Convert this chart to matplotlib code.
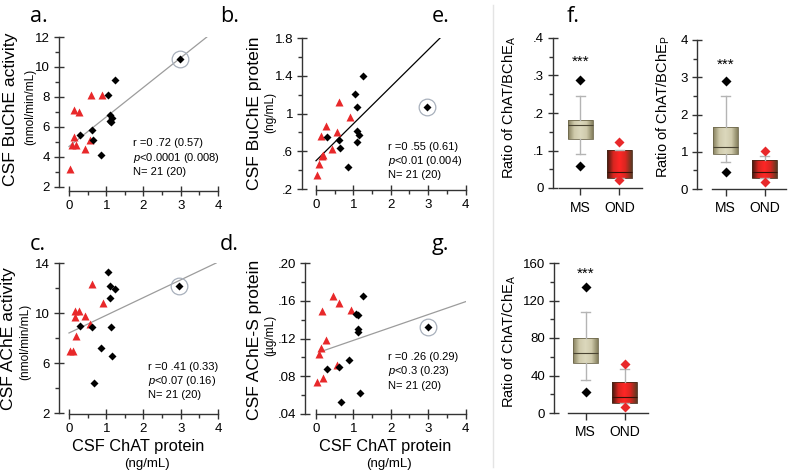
import numpy as np
import matplotlib.pyplot as plt
from matplotlib.colors import LinearSegmentedColormap
from matplotlib.ticker import MultipleLocator, FixedLocator

SANS = ['Liberation Sans', 'DejaVu Sans']
plt.rcParams['font.family'] = SANS

W, H = 790, 475

# ---- scatter data: x = CSF ChAT protein (ng/mL); red = one group, black = other ----
a_red_x = [0.02, 0.125, 0.26, 0.125, 0.09, 0.18, 0.42, 0.60, 0.57, 0.89]
a_red_y = [3.2, 7.1, 7.0, 5.3, 4.8, 4.8, 4.55, 8.13, 5.1, 8.1]
a_blk_x = [0.29, 0.63, 0.64, 0.87, 1.04, 1.24, 1.11, 1.15, 1.09, 1.12, 2.99]
a_blk_y = [5.44, 5.82, 5.16, 4.16, 8.16, 9.1, 6.78, 6.6, 6.4, 6.3, 10.56]

b_red_x = [0.036, 0.09, 0.15, 0.2, 0.13, 0.27, 0.44, 0.57, 0.61, 0.91]
b_red_y = [0.35, 0.47, 0.546, 0.56, 0.76, 0.87, 0.62, 0.80, 1.12, 0.96]
b_blk_x = [0.29, 0.62, 0.64, 0.86, 1.04, 1.10, 1.10, 1.11, 1.16, 1.25, 2.98]
b_blk_y = [0.755, 0.72, 0.634, 0.43, 1.21, 1.07, 0.695, 0.82, 0.775, 1.40, 1.07]

c_red_x = [0.02, 0.11, 0.2, 0.15, 0.27, 0.15, 0.44, 0.57, 0.63, 0.91]
c_red_y = [6.96, 6.96, 8.13, 10.2, 10.2, 9.68, 9.76, 9.09, 12.35, 10.8]
c_blk_x = [0.29, 0.63, 0.87, 0.66, 1.04, 1.11, 1.24, 1.09, 1.12, 1.16, 2.96]
c_blk_y = [9.0, 8.88, 7.2, 4.4, 13.28, 12.16, 11.95, 11.2, 8.88, 6.56, 12.19]

d_red_x = [0.036, 0.18, 0.125, 0.09, 0.27, 0.15, 0.45, 0.62, 0.93, 0.57]
d_red_y = [.074, .078, .110, .104, .118, .149, .165, .158, .150, .092]
d_blk_x = [0.29, 0.62, 0.87, 0.66, 1.18, 1.25, 1.07, 1.12, 1.12, 1.12, 3.0]
d_blk_y = [.088, .090, .097, .053, .062, .165, .146, .145, .130, .127, .132]

# regression lines (end points)
a_fit = ([0.0, 3.7], [4.7, 12.0])
b_fit = ([0.0, 3.32], [0.5, 1.8])
c_fit = ([0.0, 3.95], [8.4, 14.0])
d_fit = ([0.12, 4.0], [0.106, 0.159])

a_stats = ['r =0 .72 (0.57)', '$\\it{p}$<0.0001 (0.008)', 'N= 21 (20)']
b_stats = ['r =0 .55 (0.61)', '$\\it{p}$<0.01 (0.004)', 'N= 21 (20)']
c_stats = ['r =0 .41 (0.33)', '$\\it{p}$<0.07 (0.16)', 'N= 21 (20)']
d_stats = ['r =0 .26 (0.29)', '$\\it{p}$<0.3 (0.23)', 'N= 21 (20)']

# y tick values of the scatter panels
a_yt = [2, 4, 6, 8, 10, 12]
b_yt = [0.2, 0.6, 1.0, 1.4, 1.8]
c_yt = [2, 6, 10, 14]
d_yt = [0.04, 0.08, 0.12, 0.16, 0.20]

# ---- box plot data: [MS, OND] ----
groups = ['MS', 'OND']
f_q1, f_med, f_q3 = [.131, .027], [.168, .043], [.181, .101]
f_lo, f_hi = [.091, .027], [.246, .101]
f_out = [[.06, .288], [.021, .123]]

p_q1, p_med, p_q3 = [.93, .29], [1.12, .45], [1.66, .78]
p_lo, p_hi = [.72, .29], [2.5, .88]
p_out = [[.46, 2.91], [.2, 1.02]]

g_q1, g_med, g_q3 = [53, 11], [63.6, 17.4], [79.6, 32.7]
g_lo, g_hi = [35.2, 11], [108, 46.6]
g_out = [[22.7, 134.7], [6.7, 52]]

RED = '#e8282a'
GRAY = '#9c9c9c'

mathtext = {'mathtext.fontset': 'custom', 'mathtext.rm': 'Liberation Sans',
            'mathtext.it': 'Liberation Sans:italic'}
plt.rcParams.update(mathtext)

fig = plt.figure(figsize=(W / 100, H / 100), dpi=100)


def add_ax(left, right, top, bottom):
    return fig.add_axes([left / W, 1 - bottom / H, (right - left) / W, (bottom - top) / H])


def style_ax(ax, ybounds, xbounds):
    for s in ['top', 'right']:
        ax.spines[s].set_visible(False)
    ax.spines['left'].set_bounds(*ybounds)
    ax.spines['bottom'].set_bounds(*xbounds)
    for s in ['left', 'bottom']:
        ax.spines[s].set_color('#333333')
        ax.spines[s].set_linewidth(1.0)
    ax.patch.set_visible(False)
    ax.tick_params(which='major', direction='inout', length=7, width=1, color='#333333',
                   labelsize=9.5, pad=3)
    ax.tick_params(which='minor', direction='out', length=3, width=1, color='#333333')


def scatter_panel(ax, rx, ry, bx, by, fit, fit_color, stats, xlim, ylim, yt, sx, sy, fmt):
    ax.plot(fit[0], fit[1], color=fit_color, lw=0.9, zorder=1)
    ax.plot(rx, ry, '^', color=RED, ms=6, mec='none', clip_on=False, zorder=3)
    ax.plot(bx, by, 'D', color='black', ms=4.5, mec='none', clip_on=False, zorder=3)
    # circle round the outlier (last black point)
    ax.plot(bx[-1], by[-1], 'o', mfc='none', mec='#a8b0bc', ms=12, mew=0.9, clip_on=False, zorder=2)
    ax.set_xlim(*xlim)
    ax.set_ylim(*ylim)
    ax.xaxis.set_major_locator(MultipleLocator(1))
    ax.xaxis.set_minor_locator(MultipleLocator(0.5))
    step = yt[1] - yt[0]
    ax.yaxis.set_major_locator(FixedLocator(yt))
    ax.yaxis.set_minor_locator(FixedLocator([v + step / 2 for v in yt[:-1]]))
    ax.yaxis.set_major_formatter(fmt)
    style_ax(ax, (yt[0], yt[-1]), (0, 4))
    for t in stats:
        ax.text(sx, sy, t, fontsize=8, va='center', ha='left')
        sy = sy - (ylim[1] - ylim[0]) * 0.095


def intfmt(v, pos):
    return f'{v:g}'


def dotfmt(nd):
    return lambda v, pos: '0' if v == 0 else (f'{v:.{nd}f}'.replace('0.', '.') if v < 1 else f'{v:g}')


# panel a
ax = add_ax(59, 218, 37, 191)
scatter_panel(ax, a_red_x, a_red_y, a_blk_x, a_blk_y, a_fit, GRAY, a_stats,
              (-0.268, 4.0), (1.733, 12.0), a_yt, 1.72, 4.92, intfmt)

# panel b
ax = add_ax(302, 465.5, 38, 190)
scatter_panel(ax, b_red_x, b_red_y, b_blk_x, b_blk_y, b_fit, 'black', b_stats,
              (-0.375, 4.0), (0.19, 1.8), b_yt, 1.92, 0.65,
              lambda v, p: ('%g' % round(v, 2)).replace('0.', '.'))

# panel c
ax = add_ax(59, 218, 263, 413.5)
scatter_panel(ax, c_red_x, c_red_y, c_blk_x, c_blk_y, c_fit, GRAY, c_stats,
              (-0.268, 4.0), (1.96, 14.0), c_yt, 2.12, 5.7, intfmt)
ax.set_xlabel('CSF ChAT protein', fontsize=11.8, labelpad=3)

# panel d
ax = add_ax(305, 465.5, 263, 414)
scatter_panel(ax, d_red_x, d_red_y, d_blk_x, d_blk_y, d_fit, GRAY, d_stats,
              (-0.295, 4.0), (0.04, 0.20), d_yt, 1.92, 0.1005, dotfmt(2))
ax.set_xlabel('CSF ChAT protein', fontsize=11.8, labelpad=3)

# units under x labels
fig.text(147 / W, 1 - 464 / H, '(ng/mL)', fontsize=9.5, ha='center', va='center')
fig.text(389 / W, 1 - 464 / H, '(ng/mL)', fontsize=9.5, ha='center', va='center')

# y labels of scatter panels
ylabs = [(11, 109, 'CSF BuChE activity', 30, 107, '(nmol/min/mL)'),
         (254, 113, 'CSF BuChE protein', 270, 112, '(ng/mL)'),
         (9, 339, 'CSF AChE activity', 25, 342, '(nmol/min/mL)'),
         (254, 340, 'CSF AChE-S protein', 270, 335, '(µg/mL)')]
for x1, y1, t1, x2, y2, t2 in ylabs:
    fig.text(x1 / W, 1 - y1 / H, t1, rotation=90, fontsize=12.6, ha='center', va='center')
    fig.text(x2 / W, 1 - y2 / H, t2, rotation=90, fontsize=8.6, ha='center', va='center')

# ---- box plots ----
ms_cmap = LinearSegmentedColormap.from_list('ms', ['#86805e', '#cfcaab', '#dcd8bd', '#cfcaab', '#86805e'])
ond_cmap = LinearSegmentedColormap.from_list('ond', ['#3e1a10', '#d82620', '#ff2626', '#d82620', '#5e3a22'])


def box_panel(ax, q1, med, q3, lo, hi, out, xlim, xb, ylim, ymaj, ymin, fmt, star_y):
    stats = []
    for i in range(2):
        stats.append(dict(q1=q1[i], med=med[i], q3=q3[i], whislo=lo[i], whishi=hi[i],
                          fliers=[], label=groups[i]))
    bp = ax.bxp(stats, positions=[1, 2], widths=0.64, patch_artist=True, showfliers=False,
                boxprops=dict(facecolor='none', edgecolor='#6e684c', lw=0.6),
                medianprops=dict(color='#4a4432', lw=0.8),
                whiskerprops=dict(color='#b4b4b4', lw=1),
                capprops=dict(color='#b4b4b4', lw=1), capwidths=0.22)
    grad = np.linspace(0, 1, 64).reshape(1, -1)
    for i, cmap in enumerate([ms_cmap, ond_cmap]):
        im = ax.imshow(grad, cmap=cmap, aspect='auto',
                       extent=(i + 1 - 0.32, i + 1 + 0.32, q1[i], q3[i]), zorder=1.5)
        im.set_clip_path(bp['boxes'][i])
    bp['boxes'][1].set_edgecolor('#4a2a1a')
    bp['medians'][1].set_color('#3a1208')
    for i, c in enumerate(['black', RED]):
        ax.plot([i + 1] * len(out[i]), out[i], 'D', color=c, ms=5, mec='none', clip_on=False, zorder=4)
    ax.text(1, star_y, '***', ha='center', va='center', fontsize=11)
    ax.set_xlim(*xlim)
    ax.set_ylim(*ylim)
    ax.yaxis.set_major_locator(MultipleLocator(ymaj))
    ax.yaxis.set_minor_locator(MultipleLocator(ymin))
    ax.yaxis.set_major_formatter(fmt)
    ax.set_xticks([1, 2], groups)
    style_ax(ax, ylim, xb)
    ax.tick_params(axis='x', which='major', direction='out', length=5, labelsize=10, pad=4)


ax = add_ax(553, 642, 38, 188)
box_panel(ax, f_q1, f_med, f_q3, f_lo, f_hi, f_out, (0.295, 2.58), (0.449, 2.58),
          (0, 0.4), 0.1, 0.05, dotfmt(1), 0.337)

ax = add_ax(697, 786, 40, 189)
box_panel(ax, p_q1, p_med, p_q3, p_lo, p_hi, p_out, (0.269, 2.551), (0.654, 2.551),
          (0, 4), 1, 0.5, intfmt, 3.33)

ax = add_ax(554, 648, 263, 413)
box_panel(ax, g_q1, g_med, g_q3, g_lo, g_hi, g_out, (0.192, 2.60), (0.551, 2.60),
          (0, 160), 40, 20, intfmt, 148)

box_labels = [(509, 107, 'Ratio of ChAT/BChE$_\\mathregular{A}$'),
              (663, 107, 'Ratio of ChAT/BChE$_\\mathregular{P}$'),
              (509, 341, 'Ratio of ChAT/ChE$_\\mathregular{A}$')]
for x, y, t in box_labels:
    fig.text(x / W, 1 - y / H, t, rotation=90, fontsize=10.5, ha='center', va='center')

# divider
fig.add_artist(plt.Line2D([493 / W, 493 / W], [1 - 5 / H, 1 - 467 / H], color='#e4e4e4', lw=1))

# panel letters
letters = [(30, 22, 'a.'), (220, 22, 'b.'), (432, 22, 'e.'), (567, 22, 'f.'),
           (30, 250, 'c.'), (220, 250, 'd.'), (432, 250, 'g.')]
for x, y, t in letters:
    fig.text(x / W, 1 - y / H, t, fontsize=15.5, family=['Open Sans', 'DejaVu Sans'],
             ha='left', va='baseline')

fig.savefig('out.png', dpi=100)
